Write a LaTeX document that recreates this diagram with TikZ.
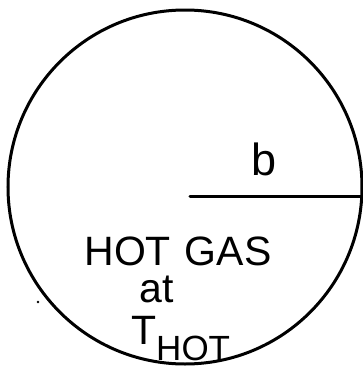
\documentclass[tikz,border=0pt]{standalone}
\usepackage{fontspec}
\setmainfont{Liberation Sans}
\usetikzlibrary{positioning}
\tikzset{
  gasball/.style={draw, circle, line width=3pt, minimum size=354pt, inner sep=0pt},
  bigtext/.style={font=\fontsize{41}{41}\selectfont, inner sep=0pt},
}
\newcommand{\hotsub}{\raisebox{-16pt}{\fontsize{35}{35}\selectfont HOT}}

\begin{document}
\begin{tikzpicture}[x=1pt,y=-1pt]
\useasboundingbox (0,0) rectangle (363,368);

\node[gasball] (ball) at (185,187) {};

\coordinate (ctr) at (190,196);
\draw[line width=3pt, line cap=round] (ctr) -- (ctr -| ball.east);

\node[bigtext, font=\fontsize{45}{45}\selectfont] (rad) at (264,159) {b};

\node[bigtext] (hotgas) at (178,251) {HOT\hspace{14pt}GAS};
\node[bigtext] (at) at (157,289) {at};
\node[bigtext, anchor=base west] (thot) at (131,344) {T\hotsub};

\fill (38,302) circle (1.3pt);

\end{tikzpicture}
\end{document}
